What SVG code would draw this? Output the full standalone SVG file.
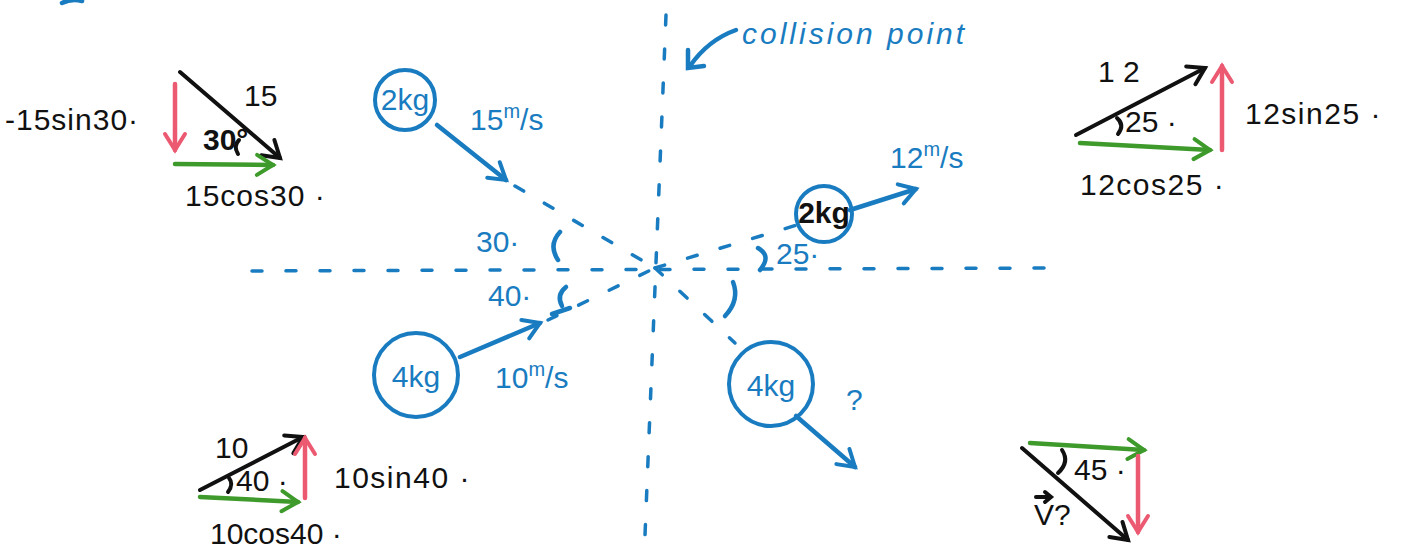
<svg xmlns="http://www.w3.org/2000/svg" width="1410" height="552" viewBox="0 0 1410 552">
<style>
.t{font-family:"Liberation Sans","DejaVu Sans",sans-serif;font-size:30px;}
.b{fill:#1a7cc0;}
.k{fill:#111;}
.bs{stroke:#1a7cc0;fill:none;stroke-width:4.5;stroke-linecap:round;}
.ks{stroke:#111;fill:none;stroke-width:4;stroke-linecap:round;}
.rs{stroke:#ec5a72;fill:none;stroke-width:4.5;stroke-linecap:round;}
.gs{stroke:#3d9a2b;fill:none;stroke-width:4.5;stroke-linecap:round;}
.dash{stroke:#1a7cc0;fill:none;stroke-width:3.5;stroke-linecap:round;stroke-dasharray:10 24;}
.circ{stroke:#1a7cc0;fill:none;stroke-width:4;}
</style>
<defs>
<marker id="ab" markerUnits="userSpaceOnUse" markerWidth="28" markerHeight="28" refX="22" refY="14" orient="auto"><path d="M6,4 L22,14 L6,24" fill="none" stroke="#1a7cc0" stroke-width="4" stroke-linecap="round"/></marker>
<marker id="ak" markerUnits="userSpaceOnUse" markerWidth="28" markerHeight="28" refX="22" refY="14" orient="auto"><path d="M6,4 L22,14 L6,24" fill="none" stroke="#111" stroke-width="4" stroke-linecap="round"/></marker>
<marker id="ar" markerUnits="userSpaceOnUse" markerWidth="28" markerHeight="28" refX="22" refY="14" orient="auto"><path d="M6,4 L22,14 L6,24" fill="none" stroke="#ec5a72" stroke-width="4" stroke-linecap="round"/></marker>
<marker id="ag" markerUnits="userSpaceOnUse" markerWidth="28" markerHeight="28" refX="22" refY="14" orient="auto"><path d="M6,4 L22,14 L6,24" fill="none" stroke="#3d9a2b" stroke-width="4" stroke-linecap="round"/></marker>
</defs>
<rect width="1410" height="552" fill="#fff"/>
<path d="M62,3 Q72,-2 82,1" class="bs"/>

<g id="axes">
<line x1="666" y1="15" x2="645" y2="535" class="dash"/>
<line x1="252" y1="271" x2="1045" y2="268" class="dash"/>
</g>

<g id="connectors">
<line x1="437" y1="125" x2="506" y2="180" class="bs" marker-end="url(#ab)"/>
<line x1="515" y1="186" x2="655" y2="268" class="dash"/>
<line x1="460" y1="357" x2="540" y2="323" class="bs" marker-end="url(#ab)"/>
<line x1="548" y1="320" x2="655" y2="268" class="dash"/>
<line x1="850" y1="210" x2="916" y2="189" class="bs" marker-end="url(#ab)"/>
<line x1="655" y1="268" x2="797" y2="225" class="dash"/>
<line x1="796" y1="416" x2="855" y2="467" class="bs" marker-end="url(#ab)"/>
<line x1="655" y1="268" x2="735" y2="343" class="dash"/>
<path d="M736,30 Q708,40 690,66" class="bs"/>
<path d="M688,50 L688,68 L704,66" class="bs"/>
</g>

<g id="angle-marks">
<path d="M560,232 Q548,245 558,260" class="bs"/>
<text x="476" y="252" class="t b" font-size="24">30·</text>
<path d="M566,287 Q556,295 562,306" class="bs"/>
<path d="M552,314 L570,308" class="bs"/>
<text x="488" y="306" class="t b" font-size="24">40·</text>
<path d="M758,248 Q772,256 760,270" class="bs"/>
<text x="776" y="264" class="t b" font-size="22">25·</text>
<path d="M733,282 Q740,300 725,316" class="bs"/>
</g>

<g id="label-collision">
<text x="742" y="44" class="t b" font-style="italic" font-size="31" letter-spacing="3">collision  point</text>
</g>

<g id="node-2kg-in">
<circle cx="405" cy="100" r="30" class="circ"/>
<text x="405" y="110" text-anchor="middle" class="t b" font-size="25">2kg</text>
<text x="470" y="130" class="t b" font-size="32">15<tspan font-size="20" dy="-12">m</tspan><tspan dy="12">/s</tspan></text>
</g>

<g id="node-4kg-in">
<circle cx="416" cy="375" r="42" class="circ"/>
<text x="416" y="387" text-anchor="middle" class="t b" font-size="31">4kg</text>
<text x="495" y="388" class="t b" font-size="32">10<tspan font-size="20" dy="-12">m</tspan><tspan dy="12">/s</tspan></text>
</g>

<g id="node-2kg-out">
<circle cx="824" cy="214" r="28" class="circ"/>
<text x="824" y="223" text-anchor="middle" class="t k" font-size="24" font-weight="bold">2kg</text>
<text x="890" y="168" class="t b" font-size="32">12<tspan font-size="20" dy="-12">m</tspan><tspan dy="12">/s</tspan></text>
</g>

<g id="node-4kg-out">
<circle cx="771" cy="384" r="42" class="circ"/>
<text x="771" y="396" text-anchor="middle" class="t b" font-size="31">4kg</text>
<text x="846" y="410" class="t b" font-size="30">?</text>
</g>

<g id="triangle-15">
<line x1="180" y1="72" x2="280" y2="158" class="ks" marker-end="url(#ak)"/>
<line x1="175" y1="84" x2="175" y2="150" class="rs" marker-end="url(#ar)"/>
<line x1="175" y1="164" x2="273" y2="165" class="gs" marker-end="url(#ag)"/>
<text x="244" y="106" class="t k" font-size="30">15</text>
<text x="5" y="130" class="t k" font-size="33" letter-spacing="1">-15sin30·</text>
<text x="203" y="150" class="t k" font-size="16" font-weight="bold">30°</text>
<path d="M239,140 Q233,146 238,154" class="ks" stroke-width="2.5"/>
<text x="185" y="206" class="t k" font-size="32" letter-spacing="1">15cos30 ·</text>
</g>

<g id="triangle-12">
<line x1="1076" y1="135" x2="1205" y2="68" class="ks" marker-end="url(#ak)"/>
<line x1="1080" y1="143" x2="1210" y2="150" class="gs" marker-end="url(#ag)"/>
<line x1="1222" y1="150" x2="1222" y2="66" class="rs" marker-end="url(#ar)"/>
<text x="1098" y="82" class="t k" font-size="32">1 2</text>
<path d="M1117,118 Q1125,125 1118,134" class="ks" stroke-width="3"/>
<text x="1125" y="132" class="t k" font-size="22">25 ·</text>
<text x="1245" y="124" class="t k" font-size="32" letter-spacing="1.5">12sin25 ·</text>
<text x="1080" y="195" class="t k" font-size="31" letter-spacing="1.5">12cos25 ·</text>
</g>

<g id="triangle-10">
<line x1="200" y1="490" x2="303" y2="437" class="ks" marker-end="url(#ak)"/>
<line x1="200" y1="497" x2="298" y2="502" class="gs" marker-end="url(#ag)"/>
<line x1="305" y1="498" x2="305" y2="438" class="rs" marker-end="url(#ar)"/>
<text x="215" y="458" class="t k" font-size="30">10</text>
<path d="M229,478 Q234,484 228,492" class="ks" stroke-width="3"/>
<text x="236" y="491" class="t k" font-size="18">40 ·</text>
<text x="334" y="488" class="t k" font-size="31" letter-spacing="1.5">10sin40 ·</text>
<text x="210" y="544" class="t k" font-size="30">10cos40 ·</text>
</g>

<g id="triangle-v">
<line x1="1030" y1="443" x2="1144" y2="450" class="gs" marker-end="url(#ag)"/>
<line x1="1138" y1="456" x2="1138" y2="532" class="rs" marker-end="url(#ar)"/>
<line x1="1022" y1="448" x2="1128" y2="540" class="ks" marker-end="url(#ak)"/>
<path d="M1062,450 Q1070,462 1058,473" class="ks" stroke-width="3"/>
<text x="1074" y="480" class="t k" font-size="22">45 ·</text>
<text x="1034" y="525" class="t k" font-size="28">V?</text>
<line x1="1036" y1="497" x2="1050" y2="497" class="ks" stroke-width="2.5"/>
<path d="M1045,492 L1051,497 L1045,502" class="ks" stroke-width="2.5"/>
</g>
</svg>
